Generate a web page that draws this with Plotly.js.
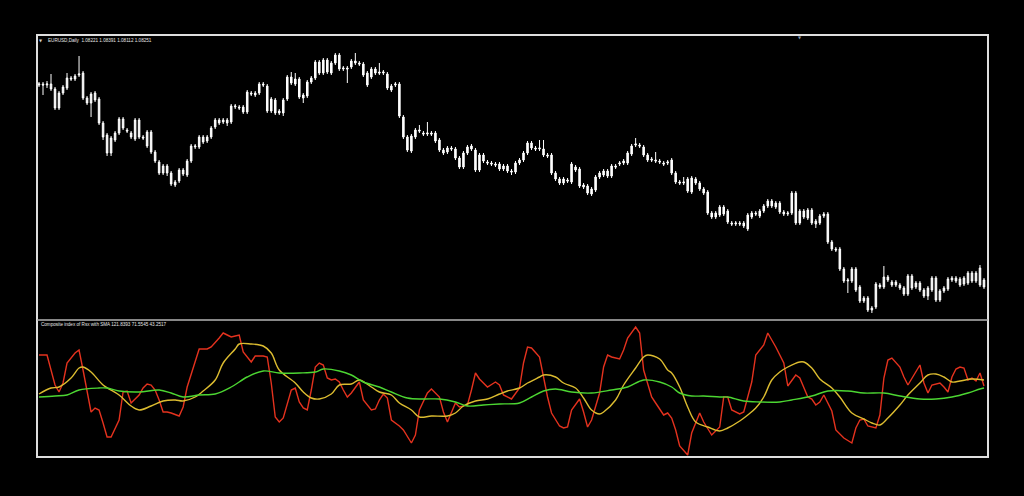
<!DOCTYPE html>
<html><head><meta charset="utf-8">
<script src="https://cdn.plot.ly/plotly-3.0.1.min.js"></script>
<style>html,body{margin:0;padding:0;background:#000;overflow:hidden}#chart{width:1024px;height:496px}</style>
</head><body><div id="chart"></div>
<script>
const symbolTitle = 'EURUSD,Daily\u00a0\u00a01.08221 1.08391 1.08112 1.08251';
const indicatorTitle = 'Composite index of Rsx with SMA 121.8393 71.5545 43.2517';

const openP = [
1.1560,1.1564,1.1560,1.1564,1.1544,1.1468,1.1528,1.1548,1.1588,1.1584,
1.1600,1.1608,1.1508,1.1488,1.1528,1.1504,1.1408,1.1360,1.1288,1.1340,
1.1368,1.1424,1.1380,1.1368,1.1344,1.1420,1.1352,1.1372,1.1372,1.1292,
1.1252,1.1208,1.1236,1.1208,1.1160,1.1176,1.1204,1.1200,1.1256,1.1312,
1.1312,1.1332,1.1336,1.1352,1.1392,1.1408,1.1420,1.1408,1.1412,1.1472,
1.1472,1.1452,1.1452,1.1528,1.1520,1.1528,1.1564,1.1556,1.1456,1.1500,
1.1456,1.1448,1.1504,1.1592,1.1564,1.1584,1.1508,1.1516,1.1572,1.1588,
1.1652,1.1608,1.1660,1.1608,1.1648,1.1680,1.1624,1.1628,1.1632,1.1656,
1.1648,1.1644,1.1608,1.1592,1.1624,1.1612,1.1608,1.1604,1.1556,1.1560,
1.1564,1.1432,1.1352,1.1296,1.1352,1.1380,1.1368,1.1364,1.1368,1.1368,
1.1340,1.1300,1.1292,1.1308,1.1304,1.1268,1.1232,1.1288,1.1304,1.1300,
1.1220,1.1280,1.1252,1.1248,1.1244,1.1244,1.1224,1.1236,1.1216,1.1212,
1.1248,1.1260,1.1288,1.1328,1.1308,1.1304,1.1304,1.1280,1.1280,1.1208,
1.1184,1.1168,1.1180,1.1172,1.1232,1.1224,1.1160,1.1156,1.1144,1.1140,
1.1192,1.1200,1.1196,1.1196,1.1236,1.1244,1.1248,1.1248,1.1284,1.1320,
1.1320,1.1312,1.1280,1.1264,1.1260,1.1256,1.1248,1.1248,1.1260,1.1208,
1.1172,1.1168,1.1184,1.1132,1.1184,1.1168,1.1144,1.1132,1.1048,1.1032,
1.1040,1.1072,1.1056,1.1008,1.1004,1.1008,1.1008,1.0984,1.1032,1.1048,
1.1036,1.1056,1.1076,1.1096,1.1088,1.1088,1.1052,1.1044,1.1048,1.1128,
1.1008,1.1056,1.1028,1.1060,1.1016,1.1008,1.1036,1.1044,1.0932,1.0904,
1.0904,1.0824,1.0776,1.0776,1.0824,1.0752,1.0696,1.0708,1.0660,1.0672,
1.0760,1.0752,1.0792,1.0772,1.0760,1.0760,1.0748,1.0724,1.0796,1.0752,
1.0768,1.0740,1.0716,1.0740,1.0788,1.0700,1.0736,1.0744,1.0780,1.0788,
1.0784,1.0764,1.0768,1.0808,1.0776,1.0760,1.0780];

const highP = [
1.1572,1.1572,1.1576,1.1604,1.1552,1.1536,1.1560,1.1608,1.1596,1.1604,
1.1676,1.1616,1.1516,1.1532,1.1536,1.1512,1.1416,1.1368,1.1356,1.1376,
1.1432,1.1432,1.1388,1.1376,1.1428,1.1428,1.1360,1.1380,1.1380,1.1300,
1.1260,1.1244,1.1244,1.1216,1.1180,1.1228,1.1228,1.1264,1.1324,1.1324,
1.1360,1.1360,1.1360,1.1396,1.1428,1.1428,1.1428,1.1428,1.1484,1.1484,
1.1480,1.1480,1.1540,1.1536,1.1536,1.1572,1.1572,1.1564,1.1512,1.1508,
1.1464,1.1508,1.1600,1.1612,1.1608,1.1592,1.1528,1.1580,1.1596,1.1660,
1.1660,1.1668,1.1668,1.1656,1.1688,1.1688,1.1636,1.1636,1.1664,1.1688,
1.1656,1.1652,1.1616,1.1632,1.1632,1.1648,1.1620,1.1612,1.1564,1.1572,
1.1572,1.1440,1.1360,1.1364,1.1388,1.1400,1.1376,1.1412,1.1376,1.1376,
1.1348,1.1308,1.1316,1.1316,1.1312,1.1276,1.1296,1.1320,1.1324,1.1308,
1.1288,1.1288,1.1260,1.1256,1.1252,1.1252,1.1244,1.1244,1.1224,1.1256,
1.1268,1.1296,1.1336,1.1336,1.1316,1.1340,1.1340,1.1288,1.1288,1.1216,
1.1192,1.1192,1.1188,1.1252,1.1240,1.1232,1.1168,1.1164,1.1152,1.1200,
1.1216,1.1224,1.1224,1.1244,1.1244,1.1256,1.1264,1.1296,1.1324,1.1348,
1.1328,1.1320,1.1288,1.1272,1.1292,1.1264,1.1256,1.1260,1.1268,1.1216,
1.1180,1.1192,1.1192,1.1196,1.1192,1.1176,1.1152,1.1140,1.1056,1.1056,
1.1080,1.1080,1.1064,1.1016,1.1016,1.1016,1.1016,1.1048,1.1056,1.1056,
1.1064,1.1084,1.1104,1.1104,1.1096,1.1096,1.1060,1.1056,1.1136,1.1136,
1.1064,1.1064,1.1068,1.1068,1.1024,1.1044,1.1052,1.1052,1.0940,1.0912,
1.0912,1.0832,1.0788,1.0832,1.0832,1.0760,1.0716,1.0716,1.0676,1.0772,
1.0768,1.0836,1.0800,1.0780,1.0780,1.0768,1.0756,1.0804,1.0804,1.0776,
1.0776,1.0748,1.0756,1.0796,1.0796,1.0744,1.0756,1.0792,1.0796,1.0796,
1.0792,1.0796,1.0816,1.0816,1.0816,1.0840,1.0788];

const lowP = [
1.1552,1.1520,1.1548,1.1536,1.1460,1.1460,1.1520,1.1540,1.1576,1.1576,
1.1592,1.1500,1.1480,1.1432,1.1492,1.1400,1.1340,1.1276,1.1276,1.1332,
1.1360,1.1380,1.1368,1.1344,1.1336,1.1344,1.1340,1.1308,1.1284,1.1248,
1.1200,1.1200,1.1196,1.1156,1.1152,1.1168,1.1196,1.1192,1.1248,1.1304,
1.1304,1.1324,1.1328,1.1344,1.1384,1.1400,1.1404,1.1396,1.1404,1.1464,
1.1460,1.1444,1.1444,1.1516,1.1512,1.1520,1.1552,1.1448,1.1448,1.1440,
1.1440,1.1436,1.1496,1.1560,1.1556,1.1504,1.1488,1.1508,1.1564,1.1580,
1.1600,1.1600,1.1604,1.1600,1.1640,1.1616,1.1616,1.1568,1.1624,1.1640,
1.1636,1.1592,1.1552,1.1584,1.1600,1.1600,1.1600,1.1540,1.1532,1.1552,
1.1428,1.1344,1.1292,1.1288,1.1344,1.1368,1.1356,1.1356,1.1356,1.1328,
1.1292,1.1280,1.1284,1.1296,1.1260,1.1224,1.1224,1.1280,1.1296,1.1212,
1.1212,1.1248,1.1240,1.1236,1.1232,1.1216,1.1216,1.1208,1.1200,1.1204,
1.1240,1.1252,1.1280,1.1300,1.1296,1.1296,1.1272,1.1268,1.1200,1.1176,
1.1160,1.1160,1.1168,1.1164,1.1212,1.1148,1.1144,1.1120,1.1116,1.1132,
1.1184,1.1192,1.1188,1.1188,1.1224,1.1236,1.1240,1.1240,1.1276,1.1312,
1.1308,1.1272,1.1252,1.1252,1.1248,1.1244,1.1236,1.1240,1.1200,1.1164,
1.1160,1.1160,1.1128,1.1124,1.1160,1.1136,1.1120,1.1040,1.1024,1.1024,
1.1032,1.1036,1.1004,1.0996,1.0996,1.0996,1.0988,1.0976,1.1024,1.1036,
1.1028,1.1048,1.1068,1.1068,1.1064,1.1044,1.1036,1.1036,1.1040,1.1000,
1.1000,1.1024,1.1020,1.1000,1.0988,1.1000,1.1028,1.0924,1.0896,1.0892,
1.0816,1.0768,1.0728,1.0768,1.0732,1.0688,1.0688,1.0652,1.0648,1.0664,
1.0744,1.0744,1.0772,1.0752,1.0752,1.0740,1.0716,1.0716,1.0740,1.0744,
1.0732,1.0708,1.0700,1.0732,1.0692,1.0692,1.0728,1.0736,1.0772,1.0768,
1.0752,1.0756,1.0760,1.0768,1.0768,1.0752,1.0744];

const closeP = [
1.1564,1.1560,1.1564,1.1544,1.1468,1.1528,1.1552,1.1588,1.1584,1.1596,
1.1604,1.1508,1.1488,1.1524,1.1500,1.1408,1.1352,1.1288,1.1348,1.1368,
1.1424,1.1388,1.1376,1.1352,1.1420,1.1352,1.1348,1.1316,1.1292,1.1256,
1.1208,1.1236,1.1208,1.1164,1.1172,1.1220,1.1220,1.1256,1.1316,1.1316,
1.1352,1.1352,1.1352,1.1388,1.1420,1.1420,1.1412,1.1420,1.1476,1.1476,
1.1468,1.1472,1.1532,1.1524,1.1528,1.1564,1.1560,1.1456,1.1504,1.1448,
1.1448,1.1500,1.1592,1.1568,1.1584,1.1512,1.1520,1.1572,1.1588,1.1652,
1.1608,1.1660,1.1612,1.1648,1.1680,1.1624,1.1628,1.1624,1.1656,1.1648,
1.1644,1.1600,1.1560,1.1624,1.1608,1.1608,1.1612,1.1548,1.1540,1.1564,
1.1436,1.1352,1.1300,1.1356,1.1380,1.1376,1.1364,1.1368,1.1364,1.1336,
1.1300,1.1288,1.1308,1.1304,1.1268,1.1232,1.1288,1.1312,1.1316,1.1220,
1.1280,1.1256,1.1248,1.1244,1.1240,1.1224,1.1236,1.1216,1.1212,1.1248,
1.1260,1.1288,1.1328,1.1308,1.1304,1.1308,1.1280,1.1276,1.1208,1.1184,
1.1168,1.1184,1.1176,1.1244,1.1220,1.1156,1.1152,1.1128,1.1124,1.1192,
1.1208,1.1216,1.1216,1.1236,1.1232,1.1248,1.1256,1.1288,1.1316,1.1324,
1.1316,1.1280,1.1260,1.1260,1.1256,1.1252,1.1244,1.1252,1.1208,1.1172,
1.1168,1.1172,1.1136,1.1188,1.1168,1.1144,1.1128,1.1048,1.1032,1.1048,
1.1072,1.1044,1.1012,1.1004,1.1008,1.1004,1.0996,1.1040,1.1048,1.1044,
1.1056,1.1076,1.1096,1.1076,1.1072,1.1052,1.1044,1.1048,1.1128,1.1008,
1.1056,1.1032,1.1060,1.1008,1.1004,1.1036,1.1044,1.0932,1.0904,1.0900,
1.0824,1.0776,1.0780,1.0824,1.0740,1.0696,1.0708,1.0660,1.0668,1.0764,
1.0752,1.0792,1.0780,1.0760,1.0772,1.0748,1.0724,1.0796,1.0748,1.0768,
1.0740,1.0716,1.0748,1.0788,1.0700,1.0736,1.0748,1.0784,1.0788,1.0776,
1.0760,1.0788,1.0808,1.0776,1.0808,1.0828,1.0752];

// Composite index (red), bar index and value
const compX = [
0,2,4,5,6,7,9,10,11,12,13,14,15,16,17,18,20,21,22,23,
25,26,27,28,29,30,31,32,33,35,36,37,39,40,42,43,45,46,47,48,
49,50,51,53,54,56,57,58,59,60,61,62,63,64,65,66,67,68,69,70,
71,72,73,74,75,76,77,78,80,81,83,84,85,86,87,88,90,91,93,94,
95,97,98,100,101,102,103,104,105,107,108,109,110,112,114,115,116,117,118,120,
121,122,123,125,126,127,128,130,131,132,133,135,136,137,138,140,141,142,143,145,
146,147,149,150,151,153,154,156,157,158,159,160,162,163,165,166,168,170,171,172,
173,175,176,178,179,181,182,184,186,187,189,190,192,193,194,195,196,198,199,201,
203,204,205,206,207,209,210,211,212,213,215,216,217,218,220,221,222,223,225,226,
227,228,229,230,231,232,233,234,235,236];
const compV = [
45,45,15,8,17,37,47,50,30,7,-12,-8,-10,-23,-37,-37,-20,8,9,-3,
5,12,16,15,10,0,-12,-12,-13,-16,-7,13,37,51,51,53,62,67,65,63,
64,65,48,38,44,44,43,17,-17,-22,-18,-3,10,12,-2,-8,-10,10,33,37,
35,22,20,21,18,10,3,7,18,0,-10,-9,0,6,2,-20,-26,-30,-43,-35,
-10,7,11,3,-12,-22,-12,-3,-7,-5,10,27,21,13,18,15,5,3,1,12,
37,53,52,43,23,3,-13,-26,-28,-27,-10,1,-12,-27,-20,7,33,45,43,41,
50,62,73,67,30,3,-3,-15,-13,-18,-30,-46,-55,-33,-13,-22,-35,-27,3,3,
-10,-14,-12,18,45,55,67,53,37,14,25,22,3,1,-5,-2,5,-11,-30,-38,
-43,-28,-20,-19,-26,-28,-15,22,40,42,33,23,15,22,35,17,7,15,17,13,
8,23,31,33,32,20,22,19,27,14];

// fast SMA (yellow)
const smaFastX = [0,3,5,8,10,11,13,16,20,23,25,28,31,34,36,39,41,44,46,49,
50,53,56,58,60,64,66,68,70,73,75,78,80,83,85,88,90,93,95,98,
102,104,106,109,112,115,117,120,122,125,126,129,131,134,136,138,140,141,144,146,
149,151,152,155,157,158,160,162,164,167,170,172,175,177,179,181,183,185,187,190,
191,193,195,198,200,203,206,208,210,212,215,217,220,222,224,226,228,230,233,236];
const smaFastV = [6,12,13,22,32,33,28,15,5,-6,-10,-6,-1,0,-1,3,9,20,37,51,
56,56,54,47,30,17,8,2,1,6,15,16,20,13,8,5,-3,-10,-17,-16,
-16,-13,-6,-1,1,6,9,12,17,23,25,23,17,12,2,-10,-14,-12,0,15,
32,43,45,41,30,27,13,-7,-22,-27,-31,-28,-21,-15,-8,3,20,28,33,38,
38,32,21,12,3,-13,-19,-23,-25,-18,-5,5,17,25,26,23,18,19,21,20];

// slow SMA (green)
const smaSlowX = [0,4,7,10,15,17,20,25,30,33,36,40,44,48,52,56,60,65,69,71,
75,78,81,85,88,92,96,100,104,107,111,115,120,123,126,129,133,138,143,147,
151,155,158,160,163,166,170,172,176,180,185,188,193,197,202,206,211,215,220,224,
228,232,235,236];
const smaSlowV = [3,4,5,10,12,12,9,8,10,7,3,5,6,13,23,29,27,27,28,31,
29,25,18,13,8,2,1,1,-2,-6,-5,-4,-3,3,9,11,8,7,10,13,
20,18,13,7,4,4,3,3,-1,-2,-2,0,4,9,9,7,7,4,1,1,
3,7,11,12];

const bars = openP.map((_, i) => i);
const hidden = {showgrid:false, zeroline:false, showticklabels:false, showline:false, ticks:'', fixedrange:true};

const traces = [
  {type:'candlestick', x:bars, open:openP, high:highP, low:lowP, close:closeP,
   xaxis:'x', yaxis:'y', whiskerwidth:0, hoverinfo:'skip',
   increasing:{line:{color:'#ffffff', width:1}, fillcolor:'#ffffff'},
   decreasing:{line:{color:'#ffffff', width:1}, fillcolor:'#ffffff'}},
  {type:'scatter', mode:'lines', x:compX, y:compV, xaxis:'x', yaxis:'y2',
   line:{color:'#e4321e', width:1.4}, hoverinfo:'skip'},
  {type:'scatter', mode:'lines', x:smaFastX, y:smaFastV, xaxis:'x', yaxis:'y2',
   line:{color:'#dcbc30', width:1.4, shape:'spline', smoothing:1}, hoverinfo:'skip'},
  {type:'scatter', mode:'lines', x:smaSlowX, y:smaSlowV, xaxis:'x', yaxis:'y2',
   line:{color:'#4cd632', width:1.4, shape:'spline', smoothing:1}, hoverinfo:'skip'}
];

const splitY = 137/422;
const layout = {
  width:1024, height:496,
  paper_bgcolor:'#000000', plot_bgcolor:'#000000',
  margin:{l:37, r:36, t:35, b:39, pad:0},
  showlegend:false, hovermode:false, boxgap:0.45,
  xaxis:Object.assign({range:[-0.5, 237], anchor:'y2', rangeslider:{visible:false}}, hidden),
  yaxis:Object.assign({domain:[splitY, 1], range:[1.062, 1.176]}, hidden),
  yaxis2:Object.assign({domain:[0, splitY], range:[-57, 80]}, hidden),
  shapes:[
    {type:'rect', xref:'paper', yref:'paper', x0:0, x1:1, y0:0, y1:1, line:{color:'#dedede', width:2}},
    {type:'line', xref:'paper', yref:'paper', x0:0, x1:1, y0:splitY, y1:splitY, line:{color:'#b4b4b4', width:1.5}}
  ],
  annotations:[
    {text:'\u25BC', xref:'paper', yref:'paper', x:0.0042, y:0.987, xanchor:'center', yanchor:'middle', showarrow:false,
     font:{size:4, color:'#d0d0d0', family:'DejaVu Sans'}},
    {text:symbolTitle, xref:'paper', yref:'paper', x:0.0095, y:0.987, xanchor:'left', yanchor:'middle', showarrow:false,
     font:{size:4.6, color:'#e6e6e6', family:'Liberation Sans'}},
    {text:indicatorTitle, xref:'paper', yref:'paper', x:0.0025, y:0.314, xanchor:'left', yanchor:'middle', showarrow:false,
     font:{size:4.6, color:'#e6e6e6', family:'Liberation Sans'}},
    {text:'\u25BC', xref:'paper', yref:'paper', x:0.8023, y:0.994, xanchor:'center', yanchor:'middle', showarrow:false,
     font:{size:4, color:'#8a9aac', family:'DejaVu Sans'}}
  ]
};

Plotly.newPlot('chart', traces, layout, {staticPlot:true, displayModeBar:false});
</script>
</body></html>
